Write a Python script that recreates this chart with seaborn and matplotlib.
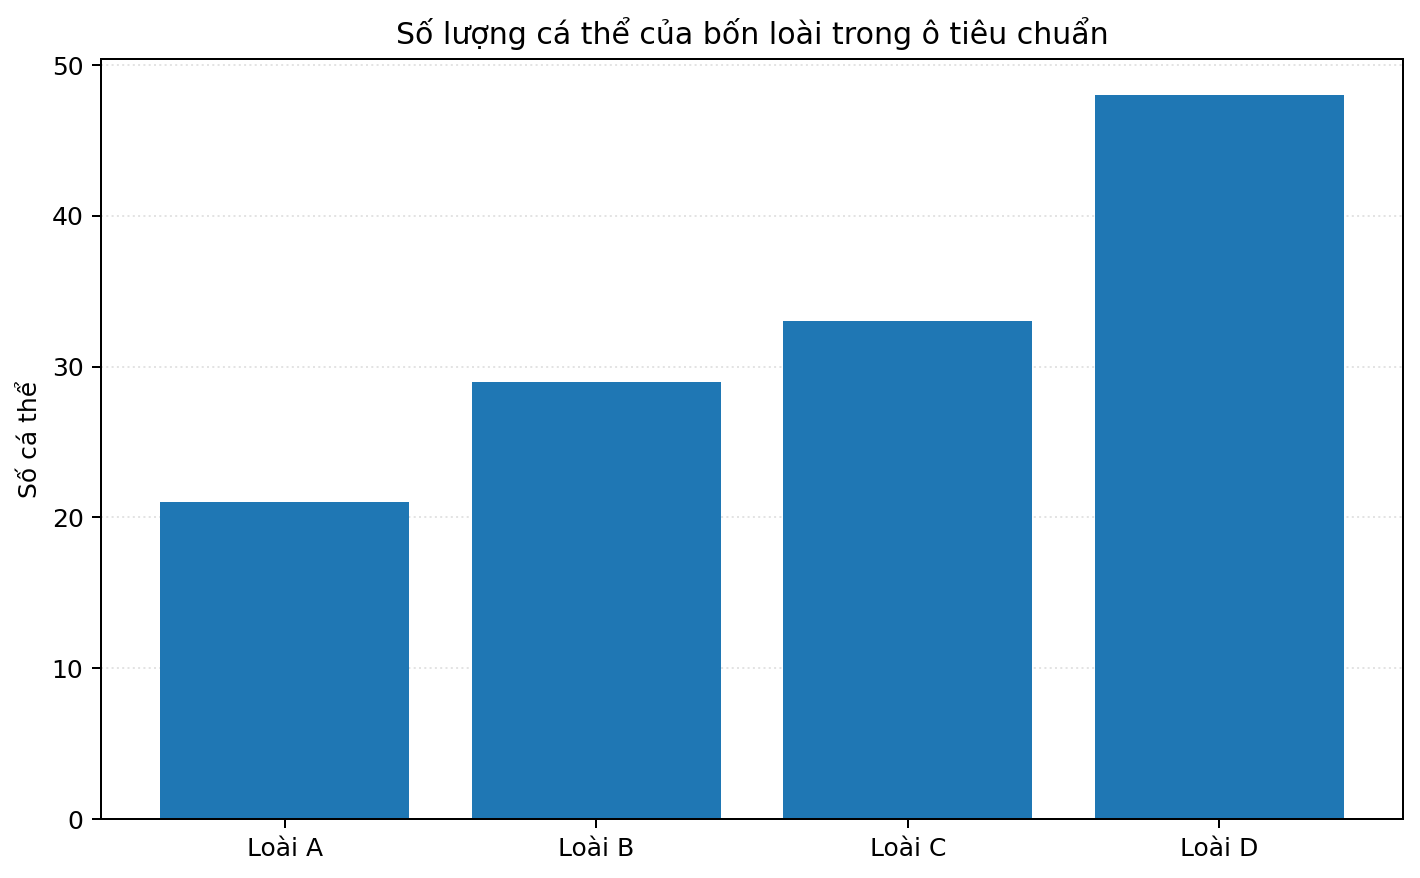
import matplotlib
matplotlib.use("Agg")
import matplotlib.pyplot as plt
import seaborn as sns
import pandas as pd

species = ["Loài A", "Loài B", "Loài C", "Loài D"]
counts = [21, 29, 33, 48]

df = pd.DataFrame({"species": species, "count": counts})

plt.rcParams["font.family"] = ["DejaVu Sans"]

fig, ax = plt.subplots(figsize=(1420 / 180, 878 / 180), dpi=180)
sns.barplot(data=df, x="species", y="count", color="#1f77b4",
            saturation=1, width=0.8, ax=ax)
ax.set_title("Số lượng cá thể của bốn loài trong ô tiêu chuẩn", fontsize=12)
ax.set_xlabel("")
ax.set_ylabel("Số cá thể", fontsize=10)
ax.tick_params(labelsize=10)
ax.yaxis.grid(True, linestyle=":", alpha=0.35)
ax.set_axisbelow(True)
ax.set_xlim(-0.59, 3.59)
ax.set_ylim(0, 50.4)

fig.subplots_adjust(left=101 / 1420, right=1403 / 1420,
                    top=1 - 59 / 878, bottom=1 - 819 / 878)
fig.savefig("out.png", dpi=180)
